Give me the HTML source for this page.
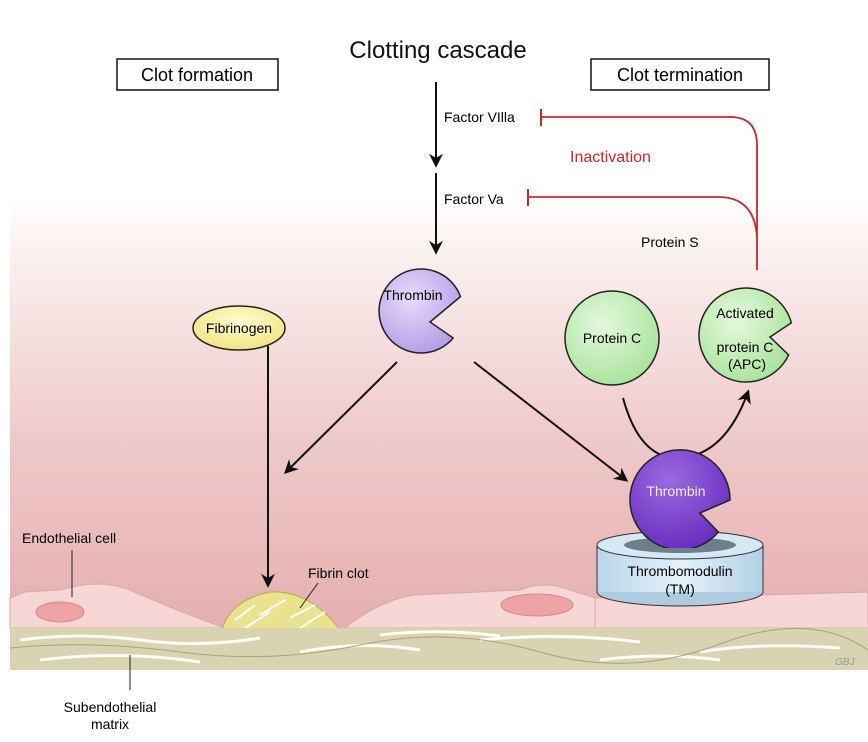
<!DOCTYPE html>
<html><head><meta charset="utf-8"><style>
body{margin:0;background:#fff}
svg{display:block;font-family:"Liberation Sans","DejaVu Sans",sans-serif}
</style></head><body>
<svg width="868" height="742" viewBox="0 0 868 742" xmlns="http://www.w3.org/2000/svg">
<defs>
<linearGradient id="bg" x1="0" y1="0" x2="0" y2="1">
<stop offset="0" stop-color="#ffffff"/>
<stop offset="0.12" stop-color="#faf0ee"/>
<stop offset="0.5" stop-color="#efcaca"/>
<stop offset="1" stop-color="#e3a9ab"/>
</linearGradient>
<radialGradient id="pur" cx="0.4" cy="0.35" r="0.7"><stop offset="0" stop-color="#e6dcfa"/><stop offset="1" stop-color="#b49be6"/></radialGradient>
<radialGradient id="dpur" cx="0.4" cy="0.3" r="0.7"><stop offset="0" stop-color="#9b6ae0"/><stop offset="1" stop-color="#6a2fc0"/></radialGradient>
<radialGradient id="grn" cx="0.4" cy="0.35" r="0.7"><stop offset="0" stop-color="#e4f8dc"/><stop offset="1" stop-color="#a7e39a"/></radialGradient>
<radialGradient id="yel" cx="0.5" cy="0.35" r="0.7"><stop offset="0" stop-color="#fffbd0"/><stop offset="1" stop-color="#f2e27a"/></radialGradient>
<linearGradient id="cyl" x1="0" y1="0" x2="1" y2="0"><stop offset="0" stop-color="#b9d6ea"/><stop offset="0.5" stop-color="#e4f1fa"/><stop offset="1" stop-color="#b3d0e6"/></linearGradient>
<marker id="ar" viewBox="0 0 10 10" refX="8" refY="5" markerWidth="7" markerHeight="7" orient="auto"><path d="M0,0 L10,5 L0,10 L3,5 Z" fill="#111"/></marker>
<clipPath id="above"><rect x="0" y="0" width="868" height="548"/></clipPath>
</defs>
<rect x="10" y="200" width="858" height="470" fill="url(#bg)"/>
<!-- cells -->
<path d="M10,598 L25,592 L60,590 Q100,578 130,590 Q180,612 225,628 L10,628 Z" fill="#f6d7d5" stroke="#d9a8a8"/>
<path d="M345,628 Q380,600 415,595 L520,590 Q545,580 570,590 L595,598 L595,628 Z" fill="#f6d7d5" stroke="#d9a8a8"/>
<path d="M595,598 L760,595 L868,592 L868,628 L595,628 Z" fill="#f6d7d5" stroke="#d9a8a8"/>
<ellipse cx="60" cy="612" rx="24" ry="10" fill="#eda3a3" stroke="#d98888"/>
<ellipse cx="537" cy="605" rx="36" ry="11" fill="#eda3a3" stroke="#d98888"/>
<path d="M222,630 Q230,600 270,592 Q310,590 340,630 Z" fill="#e9e28e" stroke="#b8ad4a"/>
<path d="M235,620 L255,605 M260,615 L285,600 M290,618 L315,605 M245,628 L270,612 M300,628 L325,612" stroke="#fff" stroke-width="2"/>
<!-- matrix -->
<rect x="10" y="628" width="858" height="42" fill="#d8d3b1"/>
<path d="M20,640 Q80,632 140,640 T260,638 M300,652 Q360,640 420,650 M480,640 Q560,632 640,642 M700,652 Q760,642 840,648 M40,660 Q120,650 200,662 M380,635 Q440,628 500,636 M600,660 Q660,652 720,660" stroke="#fff" stroke-width="3" fill="none" opacity="0.9"/>
<path d="M10,648 Q90,640 180,652 T360,645 T540,652 T720,644 T868,650" stroke="#a9a27a" fill="none"/>
<!-- title and boxes -->
<text x="438" y="58" font-size="24" text-anchor="middle" fill="#111">Clotting cascade</text>
<rect x="117" y="59" width="161" height="31" fill="#fff" stroke="#111" stroke-width="1.5"/>
<text x="197" y="81" font-size="18" text-anchor="middle">Clot formation</text>
<rect x="591" y="59" width="178" height="31" fill="#fff" stroke="#111" stroke-width="1.5"/>
<text x="680" y="81" font-size="18" text-anchor="middle">Clot termination</text>
<!-- cascade arrows -->
<line x1="436" y1="82" x2="436" y2="165" stroke="#111" stroke-width="2" marker-end="url(#ar)"/>
<line x1="436" y1="173" x2="436" y2="252" stroke="#111" stroke-width="2" marker-end="url(#ar)"/>
<text x="444" y="122" font-size="14">Factor VIlla</text>
<text x="444" y="204" font-size="14">Factor Va</text>
<!-- red inhibition -->
<path d="M757,270 L757,145 Q757,117 730,117 L541,117" stroke="#c8282e" stroke-width="1.8" fill="none"/>
<line x1="541" y1="109" x2="541" y2="126" stroke="#c8282e" stroke-width="2"/>
<path d="M757,238 Q755,198 720,197 L528,197" stroke="#c8282e" stroke-width="1.8" fill="none"/>
<line x1="528" y1="189" x2="528" y2="206" stroke="#c8282e" stroke-width="2"/>
<text x="570" y="162" font-size="16" fill="#c8282e">Inactivation</text>
<text x="641" y="247" font-size="14">Protein S</text>
<!-- thrombin top -->
<path d="M430,322 L460.5,296.6 A42,42 0 1 0 453.2,338 Z" fill="url(#pur)" stroke="#222" stroke-width="1.5"/>
<text x="413" y="300" font-size="14" text-anchor="middle">Thrombin</text>
<!-- fibrinogen -->
<ellipse cx="239" cy="328" rx="46" ry="22" fill="url(#yel)" stroke="#222" stroke-width="1.5"/>
<text x="239" y="333" font-size="14" text-anchor="middle">Fibrinogen</text>
<line x1="268" y1="346" x2="268" y2="585" stroke="#111" stroke-width="2" marker-end="url(#ar)"/>
<!-- thrombin arrows -->
<line x1="397" y1="362" x2="286" y2="472" stroke="#111" stroke-width="2" marker-end="url(#ar)"/>
<line x1="474" y1="362" x2="626" y2="480" stroke="#111" stroke-width="2" marker-end="url(#ar)"/>
<!-- protein C -->
<circle cx="612" cy="338" r="47" fill="url(#grn)" stroke="#222" stroke-width="1.5"/>
<text x="612" y="343" font-size="14" text-anchor="middle">Protein C</text>
<path d="M770,337 L791.4,322.8 A47,47 0 1 0 788.6,354.9 Z" fill="url(#grn)" stroke="#222" stroke-width="1.5"/>
<text x="745" y="318" font-size="14" text-anchor="middle">Activated</text>
<text x="745" y="352" font-size="14" text-anchor="middle">protein C</text>
<text x="747" y="369" font-size="14" text-anchor="middle">(APC)</text>
<path d="M623,398 Q640,460 680,458 Q725,455 748,392" stroke="#111" stroke-width="2" fill="none" marker-end="url(#ar)"/>
<!-- cylinder -->
<ellipse cx="680" cy="592" rx="83" ry="14" fill="#aecbe0" stroke="#333"/>
<rect x="597" y="545" width="166" height="47" fill="url(#cyl)"/>
<line x1="597" y1="545" x2="597" y2="592" stroke="#333"/>
<line x1="763" y1="545" x2="763" y2="592" stroke="#333"/>
<ellipse cx="680" cy="545" rx="83" ry="14" fill="#d6e8f4" stroke="#333"/>
<ellipse cx="680" cy="545" rx="56" ry="8" fill="#6b7f8c"/>
<path d="M700,513 L730,500 A50,50 0 1 0 718.3,532 Z" fill="url(#dpur)" stroke="#222" stroke-width="1.5" clip-path="url(#above)"/>
<text x="676" y="496" font-size="14" text-anchor="middle" fill="#f2eaff">Thrombin</text>
<text x="680" y="576" font-size="14" text-anchor="middle">Thrombomodulin</text>
<text x="680" y="594" font-size="14" text-anchor="middle">(TM)</text>
<!-- labels -->
<text x="22" y="543" font-size="14">Endothelial cell</text>
<line x1="72" y1="550" x2="72" y2="597" stroke="#222"/>
<text x="308" y="578" font-size="14">Fibrin clot</text>
<line x1="318" y1="583" x2="300" y2="608" stroke="#222"/>
<line x1="130" y1="655" x2="130" y2="690" stroke="#222"/>
<text x="110" y="712" font-size="14" text-anchor="middle">Subendothelial</text>
<text x="110" y="729" font-size="14" text-anchor="middle">matrix</text>
<text x="835" y="665" font-size="10" fill="#999" font-style="italic">GBJ</text>
</svg>
</body></html>
